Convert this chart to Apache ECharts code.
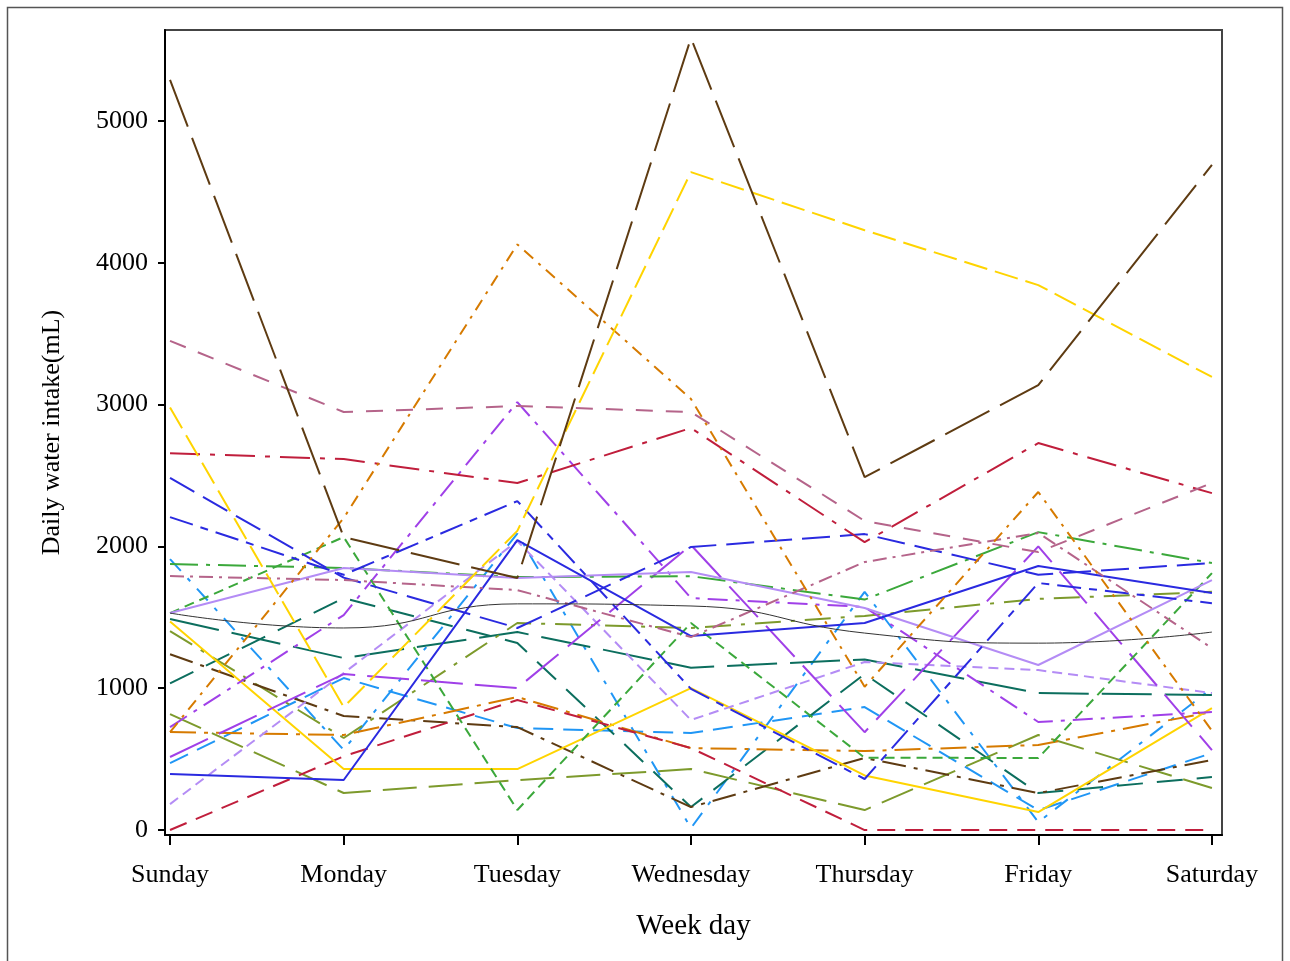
<!DOCTYPE html>
<html>
<head>
<meta charset="utf-8">
<script src="https://cdn.jsdelivr.net/npm/echarts@6/dist/echarts.min.js"></script>
<style>
html, body { margin: 0; padding: 0; background: #fff; }
#water-chart { width: 1290px; height: 961px; }
</style>
</head>
<body>
<div id="water-chart"></div>
<script>
// categories + ticks
var days = ["Sunday", "Monday", "Tuesday", "Wednesday", "Thursday", "Friday", "Saturday"];
var yTicks = [0, 1000, 2000, 3000, 4000, 5000];

// one array per subject (Sun..Sat)
var brownLongDash = [5290, 2066, 1777, 5585, 2489, 3138, 4690];
var yellowDash = [2980, 867, 2110, 4640, 4230, 3843, 3195];
var orangeDashDot = [690, 2200, 4130, 3040, 1010, 2384, 700];
var mauveDash = [3450, 2948, 2990, 2948, 2180, 1960, 2447];
var mauveDashDot = [1791, 1763, 1692, 1361, 1890, 2095, 1283];
var redDashDot = [2657, 2616, 2447, 2835, 2030, 2729, 2376];
var blueDash = [2483, 1780, 1425, 1996, 2087, 1800, 1883];
var blueDashDot = [2207, 1800, 2320, 995, 360, 1742, 1600];
var blueSolid = [395, 353, 2045, 1368, 1460, 1862, 1671];
var greenDashDot = [1876, 1848, 1784, 1790, 1625, 2101, 1883];
var greenDash = [1530, 2066, 141, 1460, 510, 508, 1812];
var lilacSolid = [1530, 1848, 1777, 1820, 1566, 1164, 1763];
var meanCurve = [1530, 1425, 1595, 1580, 1389, 1318, 1396];
var tealLongDash = [1488, 1213, 1396, 1145, 1203, 966, 952];
var tealDash = [1035, 1636, 1319, 162, 1100, 261, 374];
var skyDashDot = [1911, 565, 2090, 14, 1680, 56, 1000];
var skyDash = [472, 1072, 719, 684, 867, 140, 543];
var yellowSolid = [1470, 430, 430, 1001, 385, 127, 860];
var oliveDashDot = [1403, 649, 1460, 1425, 1510, 1630, 1680];
var oliveDash = [818, 261, 352, 430, 141, 670, 296];
var brownDashDot = [1240, 804, 726, 162, 508, 261, 494];
var orangeFlat = [691, 670, 938, 578, 557, 600, 832];
var redDash = [0, 520, 917, 578, 0, 0, 0];
var purpleDashDot = [726, 1516, 3018, 1636, 1573, 762, 832];
var purpleDash = [515, 1100, 1001, 2010, 690, 2000, 564];
var lilacDash = [183, 1107, 2038, 776, 1185, 1128, 966];

var lines = [
  { data: skyDash, color: "#2096f5", dash: [20, 10] },
  { data: skyDashDot, color: "#2096f5", dash: [16, 10, 4, 10] },
  { data: tealDash, color: "#0c6e5e", dash: [26, 14] },
  { data: tealLongDash, color: "#0c6e5e", dash: [50, 13] },
  { data: oliveDash, color: "#7d9a2c", dash: [34, 12] },
  { data: oliveDashDot, color: "#7d9a2c", dash: [26, 10, 4, 10] },
  { data: brownDashDot, color: "#5e3b12", dash: [24, 8, 4, 8] },
  { data: orangeFlat, color: "#d67a00", dash: [26, 8, 4, 8] },
  { data: redDash, color: "#c01e3c", dash: [18, 10] },
  { data: yellowSolid, color: "#ffd400", dash: "solid" },
  { data: lilacDash, color: "#b48cf5", dash: [10, 6] },
  { data: purpleDash, color: "#a040e8", dash: [42, 12] },
  { data: purpleDashDot, color: "#a040e8", dash: [20, 8, 4, 8] },
  { data: greenDash, color: "#3ba83b", dash: [10, 6] },
  { data: greenDashDot, color: "#3ba83b", dash: [28, 8, 4, 8] },
  { data: lilacSolid, color: "#b48cf5", dash: "solid" },
  { data: blueSolid, color: "#2a2ae0", dash: "solid" },
  { data: blueDashDot, color: "#2a2ae0", dash: [24, 8, 8, 8] },
  { data: blueDash, color: "#2a2ae0", dash: [28, 10] },
  { data: redDashDot, color: "#c01e3c", dash: [30, 10, 5, 10] },
  { data: mauveDashDot, color: "#b5648a", dash: [14, 6, 3, 6] },
  { data: mauveDash, color: "#b5648a", dash: [17, 13] },
  { data: orangeDashDot, color: "#d67a00", dash: [12, 7, 3, 7] },
  { data: yellowDash, color: "#ffd400", dash: [24, 8] },
  { data: brownLongDash, color: "#5e3b12", dash: [50, 12] }
];

var dayIdx = days.map(function (d, i) { return i; });
var serif = "'Liberation Serif', 'DejaVu Serif', serif";

var series = lines.map(function (l) {
  return {
    type: "line",
    data: l.data.map(function (v, i) { return [i, v]; }),
    showSymbol: false,
    lineStyle: { color: l.color, width: 2, type: l.dash },
    silent: true
  };
});
// thin black smoothed curve
series.push({
  type: "line",
  data: meanCurve.map(function (v, i) { return [i, v]; }),
  smooth: true,
  showSymbol: false,
  lineStyle: { color: "#333", width: 1 },
  silent: true
});

var chart = echarts.init(document.getElementById("water-chart"));
chart.setOption({
  animation: false,
  backgroundColor: "#fff",
  graphic: [{
    type: "rect",
    shape: { x: 7.5, y: 7.5, width: 1275, height: 980 },
    style: { fill: "none", stroke: "#555", lineWidth: 1.5 },
    silent: true
  }],
  grid: {
    left: 165, right: 68, top: 30, bottom: 126,
    show: true, borderColor: "#444", borderWidth: 2
  },
  xAxis: {
    type: "value",
    min: -0.029,
    max: 6.058,
    name: "Week day",
    nameLocation: "middle",
    nameGap: 77,
    nameTextStyle: { fontFamily: serif, fontSize: 29, color: "#000" },
    axisLine: { onZero: false, lineStyle: { color: "#000", width: 2 } },
    axisTick: { customValues: dayIdx, length: 10, lineStyle: { color: "#000", width: 2 } },
    axisLabel: {
      customValues: dayIdx,
      margin: 27,
      fontFamily: serif,
      fontSize: 26,
      color: "#000",
      formatter: function (v) { return days[Math.round(v)]; }
    },
    splitLine: { show: false }
  },
  yAxis: {
    type: "value",
    min: -35,
    max: 5642,
    name: "Daily water intake(mL)",
    nameLocation: "middle",
    nameGap: 100,
    nameTextStyle: { fontFamily: serif, fontSize: 26, color: "#000" },
    axisLine: { onZero: false, lineStyle: { color: "#000", width: 2 } },
    axisTick: { customValues: yTicks, length: 7, lineStyle: { color: "#000", width: 2 } },
    axisLabel: {
      customValues: yTicks,
      margin: 17,
      fontFamily: serif,
      fontSize: 26,
      color: "#000",
      formatter: function (v) { return String(v); }
    },
    splitLine: { show: false }
  },
  series: series
});
</script>
</body>
</html>
